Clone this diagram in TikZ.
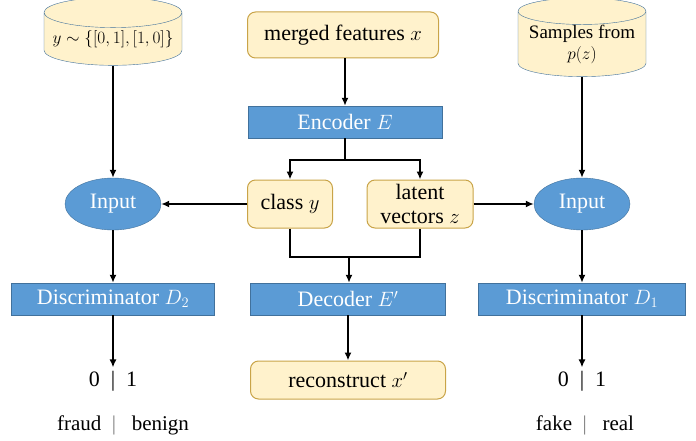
\documentclass[tikz,border=0pt]{standalone}
\usepackage{fontspec}
\setmainfont{Liberation Serif}
\usepackage{tikz}
\usetikzlibrary{shapes,arrows.meta,positioning}
\definecolor{BarBlue}{RGB}{91,155,213}
\definecolor{BarEdge}{RGB}{65,113,156}
\definecolor{NoteYellow}{RGB}{255,242,204}
\definecolor{NoteEdge}{RGB}{201,164,72}
\definecolor{SepGray}{RGB}{128,128,128}

\tikzset{
  bluebar/.style={rectangle,draw=BarEdge,fill=BarBlue,text=white,minimum height=32pt,inner sep=0pt},
  inputnode/.style={ellipse,draw=BarEdge,fill=BarBlue,text=white,minimum width=96pt,minimum height=52pt,inner sep=0pt},
  notebox/.style={rectangle,rounded corners=8pt,draw=NoteEdge,line width=1pt,fill=NoteYellow,inner sep=0pt,align=center},
  store/.style={cylinder,shape border rotate=90,aspect=0.25,draw=BarEdge,fill=NoteYellow,inner sep=0pt,align=center},
  arr/.style={-{Latex[length=8pt,width=7pt]},line width=1.6pt},
  plain/.style={line width=1.6pt}
}

\begin{document}
\begin{tikzpicture}[x=1pt,y=-1pt,font=\fontsize{22}{24}\selectfont]
    \useasboundingbox (0,0) rectangle (696,441);

    % sources on top
    \node[store,minimum width=138pt,minimum height=68pt,font=\fontsize{19}{21}\selectfont] (prior) at (113,39) {$y\sim\{[0,1],[1,0]\}$};
    \node[notebox,minimum width=191pt,minimum height=46pt] (feat) at (343,35) {merged features $x$};
    \node[store,minimum width=128pt,minimum height=68pt,font=\fontsize{19}{21}\selectfont] (samp) at (582,44) {Samples from\\$p(z)$};

    % autoencoder
    \node[bluebar,minimum width=194pt] (enc) at (345,122) {Encoder $E$};
    \node[notebox,minimum width=85pt,minimum height=48pt] (cls) at (290,204) {class $y$};
    \node[notebox,minimum width=106pt,minimum height=48pt] (lat) at (420,204) {latent\\vectors $z$};
    \node[bluebar,minimum width=195pt] (dec) at (348,299) {Decoder $E'$};
    \node[notebox,minimum width=195pt,minimum height=38pt] (rec) at (348,380) {reconstruct $x'$};

    % discriminators
    \node[inputnode] (inL) at (113,204) {Input};
    \node[inputnode] (inR) at (582,204) {Input};
    \node[bluebar,minimum width=203pt] (disL) at (113,299) {Discriminator $D_2$};
    \node[bluebar,minimum width=207pt] (disR) at (582,299) {Discriminator $D_1$};

    % outputs
    \node (outL) at (113,381) {0\enspace|\enspace1};
    \node (outR) at (582,381) {0\enspace|\enspace1};
    \node[font=\fontsize{21}{23}\selectfont] (labL) at (123,425) {fraud\enspace\textcolor{SepGray}{|}\enspace\ benign};
    \node[font=\fontsize{21}{23}\selectfont] (labR) at (585,425) {fake\enspace\textcolor{SepGray}{|}\enspace\ real};

    % connectors
    \coordinate (split) at (345,160);
    \coordinate (join) at (349,257);
    \draw[arr] (prior) -- (inL);
    \draw[arr] (samp) -- (inR);
    \draw[arr] (enc |- feat.south) -- (enc.north);
    \draw[plain] (enc.south) -- (split);
    \draw[arr] (split) -| (cls.north);
    \draw[arr] (split) -| (lat.north);
    \draw[arr] (cls.west) -- (cls.west -| inL.east);
    \draw[arr] (lat.east) -- (lat.east -| inR.west);
    \draw[plain] (cls.south) |- (join) -| (lat.south);
    \draw[arr] (join) -- (join |- dec.north);
    \draw[arr] (dec) -- (rec);
    \draw[arr] (inL) -- (disL);
    \draw[arr] (inR) -- (disR);
    \draw[arr] (disL) -- (outL);
    \draw[arr] (disR) -- (outR);
\end{tikzpicture}
\end{document}
